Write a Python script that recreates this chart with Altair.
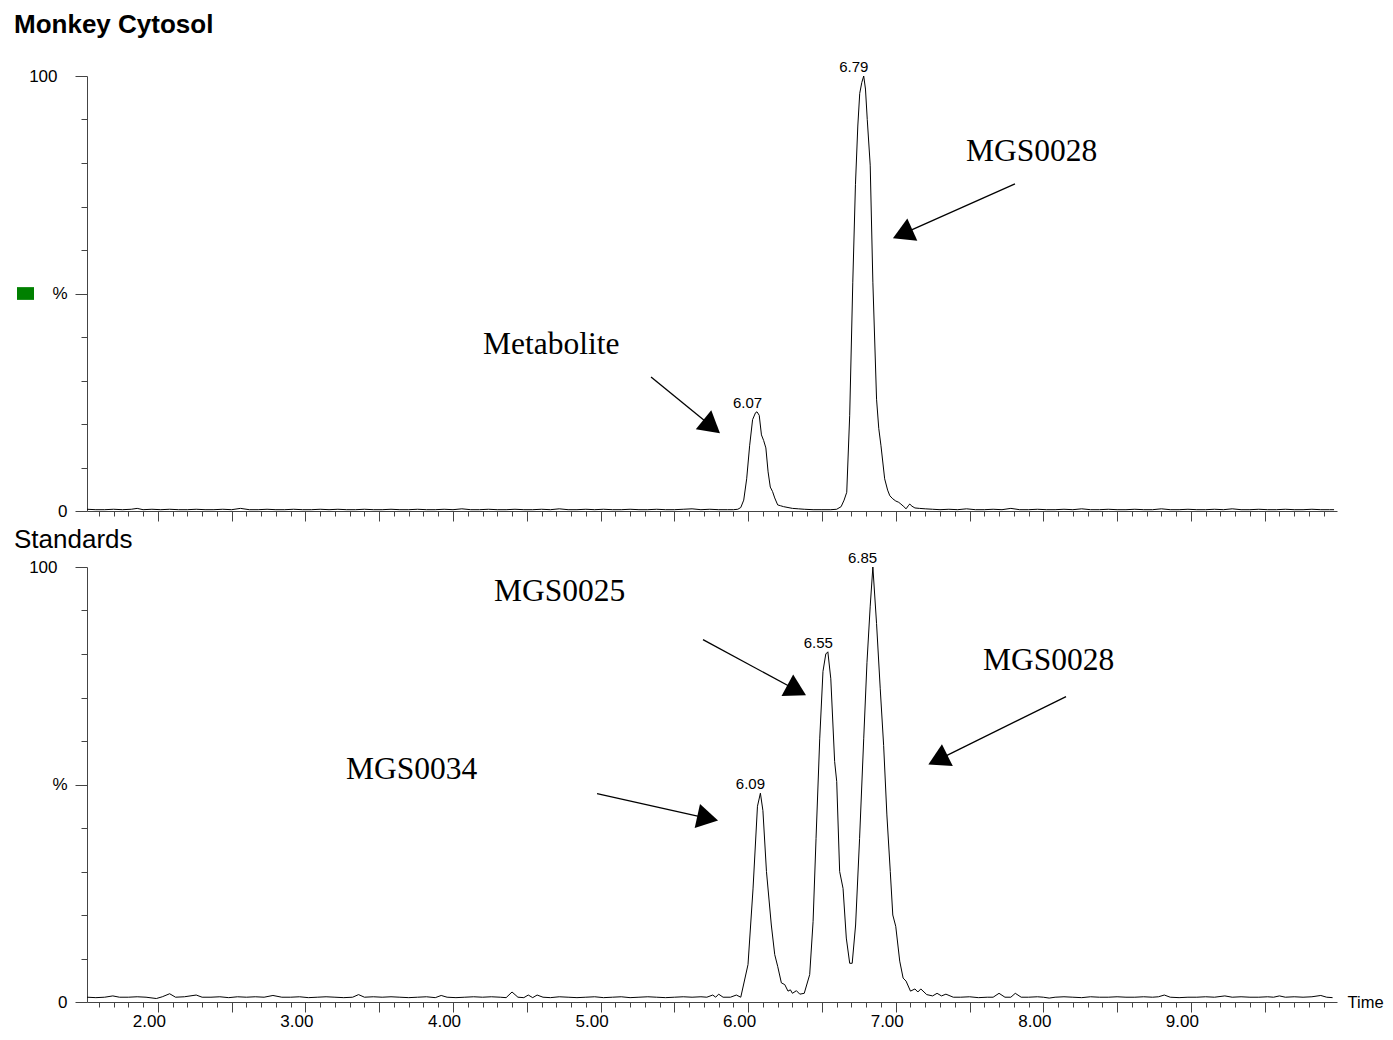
import math
import altair as alt
import pandas as pd

# ------------------------------------------------------------------ data
# Monkey Cytosol trace (time in min, relative intensity in %)
top_time = [
    1.52, 1.58, 1.64, 1.70, 1.76, 1.82, 1.86, 1.90, 1.96, 2.02, 2.08, 2.14, 2.20, 2.26, 2.32,
    2.38, 2.44, 2.50, 2.56, 2.62, 2.68, 2.74, 2.80, 2.86, 2.92, 2.98, 3.04, 3.10, 3.16, 3.22,
    3.28, 3.34, 3.40, 3.46, 3.52, 3.58, 3.64, 3.70, 3.76, 3.82, 3.88, 3.94, 4.00, 4.06, 4.12,
    4.18, 4.24, 4.30, 4.36, 4.42, 4.48, 4.54, 4.60, 4.66, 4.72, 4.78, 4.84, 4.90, 4.96, 5.02,
    5.08, 5.14, 5.20, 5.26, 5.32, 5.38, 5.44, 5.50, 5.56, 5.62, 5.68, 5.74, 5.80, 5.86, 5.90,
    5.93, 5.95, 5.97, 5.99, 6.01, 6.03, 6.05, 6.06, 6.075, 6.09, 6.105, 6.12, 6.135, 6.15,
    6.165, 6.18, 6.20, 6.22, 6.24, 6.27, 6.30, 6.34, 6.38, 6.44, 6.50, 6.56, 6.60,
    6.63, 6.65, 6.668, 6.688, 6.709, 6.727, 6.743, 6.756, 6.77, 6.783, 6.795, 6.807, 6.827,
    6.845, 6.87, 6.885, 6.90, 6.925, 6.945, 6.96, 6.98, 7.00, 7.02, 7.035, 7.055, 7.07, 7.085,
    7.095, 7.11, 7.13, 7.16, 7.20, 7.25, 7.30,
    7.36, 7.42, 7.48, 7.54, 7.60, 7.66, 7.72, 7.78, 7.84, 7.90, 7.96, 8.02, 8.08, 8.14, 8.20,
    8.26, 8.32, 8.38, 8.44, 8.50, 8.56, 8.62, 8.68, 8.74, 8.80, 8.86, 8.92, 8.98, 9.04, 9.10,
    9.16, 9.22, 9.28, 9.34, 9.40, 9.46, 9.52, 9.58, 9.64, 9.70, 9.76, 9.82, 9.88, 9.94, 9.97,
]
top_pct = [
    0.4, 0.3, 0.3, 0.4, 0.3, 0.4, 0.6, 0.3, 0.4, 0.3, 0.4, 0.3, 0.3, 0.4, 0.3,
    0.3, 0.4, 0.3, 0.6, 0.3, 0.3, 0.4, 0.3, 0.3, 0.4, 0.3, 0.3, 0.4, 0.3, 0.4,
    0.3, 0.3, 0.4, 0.3, 0.3, 0.4, 0.3, 0.3, 0.4, 0.3, 0.3, 0.4, 0.3, 0.5, 0.3,
    0.3, 0.4, 0.3, 0.3, 0.4, 0.3, 0.3, 0.4, 0.3, 0.5, 0.3, 0.3, 0.4, 0.3, 0.4,
    0.3, 0.3, 0.4, 0.3, 0.3, 0.4, 0.3, 0.3, 0.4, 0.5, 0.3, 0.4, 0.3, 0.3, 0.3,
    0.4, 0.8, 2.5, 7.4, 15.0, 21.0, 22.6, 22.8, 22.0, 17.5, 16.2, 14.5, 9.0, 5.5,
    4.5, 3.0, 1.4, 1.2, 1.0, 0.8, 0.6, 0.5, 0.4, 0.3, 0.3, 0.3, 0.4,
    1.0, 2.5, 4.3, 22.0, 52.6, 75.0, 88.5, 96.0, 98.5, 100.0, 97.0, 90.0, 79.5,
    52.6, 25.7, 19.0, 15.0, 7.4, 4.8, 3.5, 2.8, 2.3, 2.0, 1.6, 1.0, 0.5, 1.2,
    1.6, 1.1, 0.7, 0.6, 0.5, 0.4, 0.3,
    0.4, 0.3, 0.5, 0.3, 0.3, 0.4, 0.3, 0.6, 0.3, 0.3, 0.4, 0.3, 0.3, 0.4, 0.3,
    0.5, 0.3, 0.3, 0.4, 0.3, 0.3, 0.4, 0.3, 0.3, 0.5, 0.3, 0.3, 0.4, 0.3, 0.3,
    0.4, 0.3, 0.5, 0.3, 0.3, 0.4, 0.3, 0.3, 0.4, 0.3, 0.3, 0.4, 0.3, 0.3, 0.3,
]

# Standards trace
bot_time = [
    1.52, 1.58, 1.64, 1.695, 1.74, 1.80, 1.86, 1.92, 1.99, 2.03, 2.08, 2.12, 2.18, 2.26, 2.30,
    2.36, 2.42, 2.48, 2.54, 2.60, 2.66, 2.72, 2.78, 2.84, 2.90, 2.96, 3.02, 3.08, 3.14, 3.20,
    3.26, 3.32, 3.36, 3.40, 3.46, 3.52, 3.58, 3.64, 3.70, 3.76, 3.82, 3.88, 3.92, 3.96, 4.02,
    4.08, 4.14, 4.20, 4.26, 4.32, 4.36, 4.40, 4.44, 4.48, 4.51, 4.54, 4.57, 4.61, 4.66, 4.72,
    4.78, 4.84, 4.90, 4.96, 5.02, 5.08, 5.14, 5.20, 5.26, 5.32, 5.38, 5.44, 5.50, 5.56, 5.62,
    5.68, 5.72, 5.76, 5.78, 5.80, 5.83, 5.88, 5.92, 5.95,
    5.999, 6.033, 6.063, 6.083, 6.10, 6.124, 6.157, 6.18, 6.20, 6.225, 6.248, 6.27, 6.286,
    6.30, 6.327, 6.35, 6.38, 6.417, 6.44, 6.46, 6.485, 6.507, 6.526, 6.54, 6.56, 6.586, 6.60,
    6.62, 6.643, 6.665, 6.688, 6.705, 6.728, 6.755, 6.783, 6.805, 6.827, 6.845, 6.87, 6.895,
    6.918, 6.94, 6.963, 6.98, 7.00, 7.027, 7.05, 7.07, 7.10, 7.13, 7.15, 7.17, 7.21, 7.25,
    7.28, 7.31, 7.34, 7.39,
    7.44, 7.50, 7.56, 7.62, 7.66, 7.70, 7.74, 7.78, 7.81, 7.85, 7.90, 7.96, 8.00, 8.04, 8.08,
    8.14, 8.20, 8.26, 8.32, 8.38, 8.44, 8.50, 8.56, 8.62, 8.68, 8.74, 8.78, 8.82, 8.86, 8.92,
    8.98, 9.04, 9.10, 9.16, 9.23, 9.28, 9.34, 9.40, 9.46, 9.52, 9.56, 9.60, 9.64, 9.70, 9.76,
    9.82, 9.88, 9.92, 9.96,
]
bot_pct = [
    1.1, 1.0, 1.1, 1.4, 1.1, 1.1, 1.2, 1.1, 0.8, 1.2, 1.9, 1.1, 1.2, 1.6, 1.1,
    1.1, 1.2, 1.0, 1.2, 1.1, 1.2, 1.1, 1.5, 1.1, 1.1, 1.2, 1.0, 1.1, 1.2, 1.1,
    1.0, 1.1, 1.7, 1.1, 1.2, 1.1, 1.2, 1.1, 1.0, 1.1, 1.2, 1.0, 1.5, 1.1, 1.0,
    1.1, 1.2, 1.1, 1.2, 1.1, 1.0, 2.3, 1.1, 1.0, 1.6, 1.0, 1.6, 1.1, 1.0, 1.2,
    1.1, 1.0, 1.1, 1.2, 1.0, 1.1, 1.2, 1.0, 1.1, 1.2, 1.1, 1.0, 1.1, 1.2, 1.1,
    1.2, 1.1, 1.6, 1.1, 1.8, 1.1, 1.1, 1.6, 1.1,
    8.6, 26.0, 45.0, 48.0, 44.0, 30.0, 17.7, 10.9, 8.2, 4.4, 4.0, 2.5, 2.8,
    2.0, 2.6, 1.8, 2.0, 6.3, 18.5, 37.6, 60.5, 76.0, 80.0, 80.5, 74.3, 55.3, 50.7,
    30.0, 26.1, 14.7, 8.9, 8.9, 17.7, 37.6, 60.5, 78.0, 91.0, 100.0, 87.0, 72.0,
    59.0, 43.0, 30.0, 20.0, 17.4, 9.4, 5.5, 4.8, 2.5, 3.0, 2.3, 3.0, 1.7, 1.4,
    2.0, 1.4, 1.8, 1.1,
    1.1, 1.2, 1.0, 1.1, 1.1, 2.0, 1.1, 1.1, 2.0, 1.1, 1.1, 1.2, 1.1, 0.9, 1.1,
    1.2, 1.1, 1.0, 1.2, 1.1, 1.1, 1.2, 1.1, 1.1, 1.2, 1.1, 1.2, 1.6, 1.1, 1.0,
    1.1, 1.1, 1.2, 1.1, 1.4, 1.1, 1.2, 1.1, 1.1, 1.2, 1.1, 1.4, 1.1, 1.2, 1.1,
    1.2, 1.5, 1.1, 1.0,
]

# peak labels (retention time labels) and their heights
top_peak_labels = ["6.07", "6.79"]
top_peak_pct = [22.8, 100.0]
bot_peak_labels = ["6.09", "6.55", "6.85"]
bot_peak_pct = [48.0, 80.5, 100.0]

# compound annotations
top_note_text = ["Metabolite", "MGS0028"]
top_note_time = [4.203, 7.476]
top_note_pct = [36.2, 80.5]
top_arrow_from_time = [5.342, 7.808]
top_arrow_from_pct = [30.8, 75.2]
top_arrow_to_time = [5.809, 6.981]
top_arrow_to_pct = [17.9, 62.7]

bot_note_text = ["MGS0025", "MGS0028", "MGS0034"]
bot_note_time = [4.278, 7.591, 3.275]
bot_note_pct = [92.1, 76.3, 51.3]
bot_arrow_from_time = [5.694, 8.154, 4.976]
bot_arrow_from_pct = [83.3, 70.2, 47.9]
bot_arrow_to_time = [6.392, 7.221, 5.796]
bot_arrow_to_pct = [70.5, 54.6, 41.7]

# ------------------------------------------------------------------ layout
X_MIN, X_MAX = 1.52, 9.99
W, H = 1250, 435
SANS = "Liberation Sans"
SERIF = "Liberation Serif"
AXIS_GRAY = "#444444"
HEAD_SIZE = 600
HEAD_BACK = 0.433 * math.sqrt(HEAD_SIZE)  # distance from triangle centre to tip (px)

x_ticks = [round(1.6 + 0.1 * i, 1) for i in range(84)]
y_ticks = [0, 10, 20, 30, 40, 50, 60, 70, 80, 90, 100]

x_tick_size = {"condition": {"test": "abs(datum.value * 2 - round(datum.value * 2)) < 0.001", "value": 10}, "value": 5}
y_tick_size = {"condition": {"test": "datum.value % 50 == 0", "value": 12}, "value": 6}
y_label_pad = {"condition": {"test": "datum.value == 100", "value": 18}, "value": 8}

x_scale = alt.Scale(domain=[X_MIN, X_MAX], nice=False, zero=False)
y_scale = alt.Scale(domain=[0, 100], nice=False)


def y_axis():
    return alt.Axis(
        values=y_ticks,
        labelExpr="datum.value == 100 ? '100' : (datum.value == 50 ? '%' : (datum.value == 0 ? '0' : ''))",
        tickSize=y_tick_size,
        labelPadding=y_label_pad,
        labelFont=SANS, labelFontSize=17, labelColor="black",
        labelOverlap=False, labelFlush=False,
        domainColor=AXIS_GRAY, tickColor=AXIS_GRAY, grid=False, title=None,
    )


def x_axis(bottom):
    if not bottom:
        return alt.Axis(values=x_ticks, labels=False, tickSize=x_tick_size, domainColor=AXIS_GRAY,
                        tickColor=AXIS_GRAY, grid=False, title=None)
    return alt.Axis(
        values=x_ticks, format=".2f",
        labelExpr="abs(datum.value - round(datum.value)) < 0.001 ? datum.label : ''",
        tickSize=x_tick_size, labelOffset=-9, labelPadding=1,
        labelFont=SANS, labelFontSize=17, labelColor="black",
        labelOverlap=False, labelFlush=False,
        domainColor=AXIS_GRAY, tickColor=AXIS_GRAY, grid=False,
        title="Time", titleX=1260, titleY=0, titleAlign="left", titleBaseline="middle",
        titleAngle=0, titleFont=SANS, titleFontSize=16.5, titleFontWeight="normal", titleColor="black",
    )


def arrow_table(ft, fp, tt, tp):
    kx = W / (X_MAX - X_MIN)
    ky = H / 100.0
    rows = []
    for x1, y1, x2, y2 in zip(ft, fp, tt, tp):
        dxp = (x2 - x1) * kx
        dyp = -(y2 - y1) * ky
        L = math.hypot(dxp, dyp)
        ux, uy = dxp / L, dyp / L
        ang = math.degrees(math.atan2(ux, -uy)) % 360
        cx = x2 - ux * HEAD_BACK / kx
        cy = y2 + uy * HEAD_BACK / ky
        rows.append({"time": x1, "pct": y1, "t2": cx, "p2": cy, "angle": ang})
    return pd.DataFrame(rows)


def panel(time, pct, peak_labels, peak_pct, note_text, note_time, note_pct,
          aft, afp, att, atp, bottom, title):
    trace = pd.DataFrame({"time": time, "pct": pct})
    peaks = pd.DataFrame({"label": peak_labels, "time": [float(s) for s in peak_labels], "pct": peak_pct})
    notes = pd.DataFrame({"text": note_text, "time": note_time, "pct": note_pct})
    arrows = arrow_table(aft, afp, att, atp)

    xa = x_axis(bottom)
    ya = y_axis()

    def X(field):
        return alt.X(field, type="quantitative", scale=x_scale, axis=xa)

    def Y(field):
        return alt.Y(field, type="quantitative", scale=y_scale, axis=ya)

    line = alt.Chart(trace).mark_line(color="black", strokeWidth=1).encode(x=X("time"), y=Y("pct"))
    peak_text = alt.Chart(peaks).mark_text(
        font=SANS, fontSize=15, color="black", align="center", baseline="alphabetic", dx=-11, dy=-4
    ).encode(x=X("time"), y=Y("pct"), text="label:N")
    note = alt.Chart(notes).mark_text(
        font=SERIF, fontSize=31.5, color="black", align="left", baseline="alphabetic"
    ).encode(x=X("time"), y=Y("pct"), text="text:N")
    shaft = alt.Chart(arrows).mark_rule(color="black", strokeWidth=1.3).encode(
        x=X("time"), y=Y("pct"), x2="t2:Q", y2="p2:Q"
    )
    head = alt.Chart(arrows).mark_point(
        shape="triangle-up", filled=True, color="black", opacity=1, size=HEAD_SIZE, strokeWidth=0
    ).encode(x=X("t2"), y=Y("p2"), angle=alt.Angle("angle:Q", scale=None))

    layers = [line, peak_text, note, shaft, head]
    if not bottom:
        marker = alt.Chart(pd.DataFrame({"pct": [50]})).mark_point(
            shape="M-1,-0.75L1,-0.75L1,0.75L-1,0.75Z", filled=True, color="#008000",
            opacity=1, size=289, strokeWidth=0
        ).encode(x=alt.value(-61.5), y=Y("pct"))
        layers.append(marker)

    if bottom:
        t = alt.TitleParams(title, anchor="start", frame="group", font=SANS, fontSize=26,
                            fontWeight="normal", color="black", dx=-73, offset=5, dy=7)
    else:
        t = alt.TitleParams(title, anchor="start", frame="group", font=SANS, fontSize=26,
                            fontWeight="bold", color="black", dx=-73, offset=22)
    return alt.layer(*layers).properties(width=W, height=H, title=t)


top = panel(top_time, top_pct, top_peak_labels, top_peak_pct, top_note_text, top_note_time,
            top_note_pct, top_arrow_from_time, top_arrow_from_pct, top_arrow_to_time,
            top_arrow_to_pct, False, "Monkey Cytosol")
bottom = panel(bot_time, bot_pct, bot_peak_labels, bot_peak_pct, bot_note_text, bot_note_time,
               bot_note_pct, bot_arrow_from_time, bot_arrow_from_pct, bot_arrow_to_time,
               bot_arrow_to_pct, True, "Standards")

chart = alt.vconcat(top, bottom, spacing=56, bounds="flush").properties(
    padding={"left": 6, "top": 4, "right": 0, "bottom": 0}
).configure(background="white", view=alt.ViewConfig(stroke=None))

chart.save("out.html", embed_options={"renderer": "svg", "actions": False})
